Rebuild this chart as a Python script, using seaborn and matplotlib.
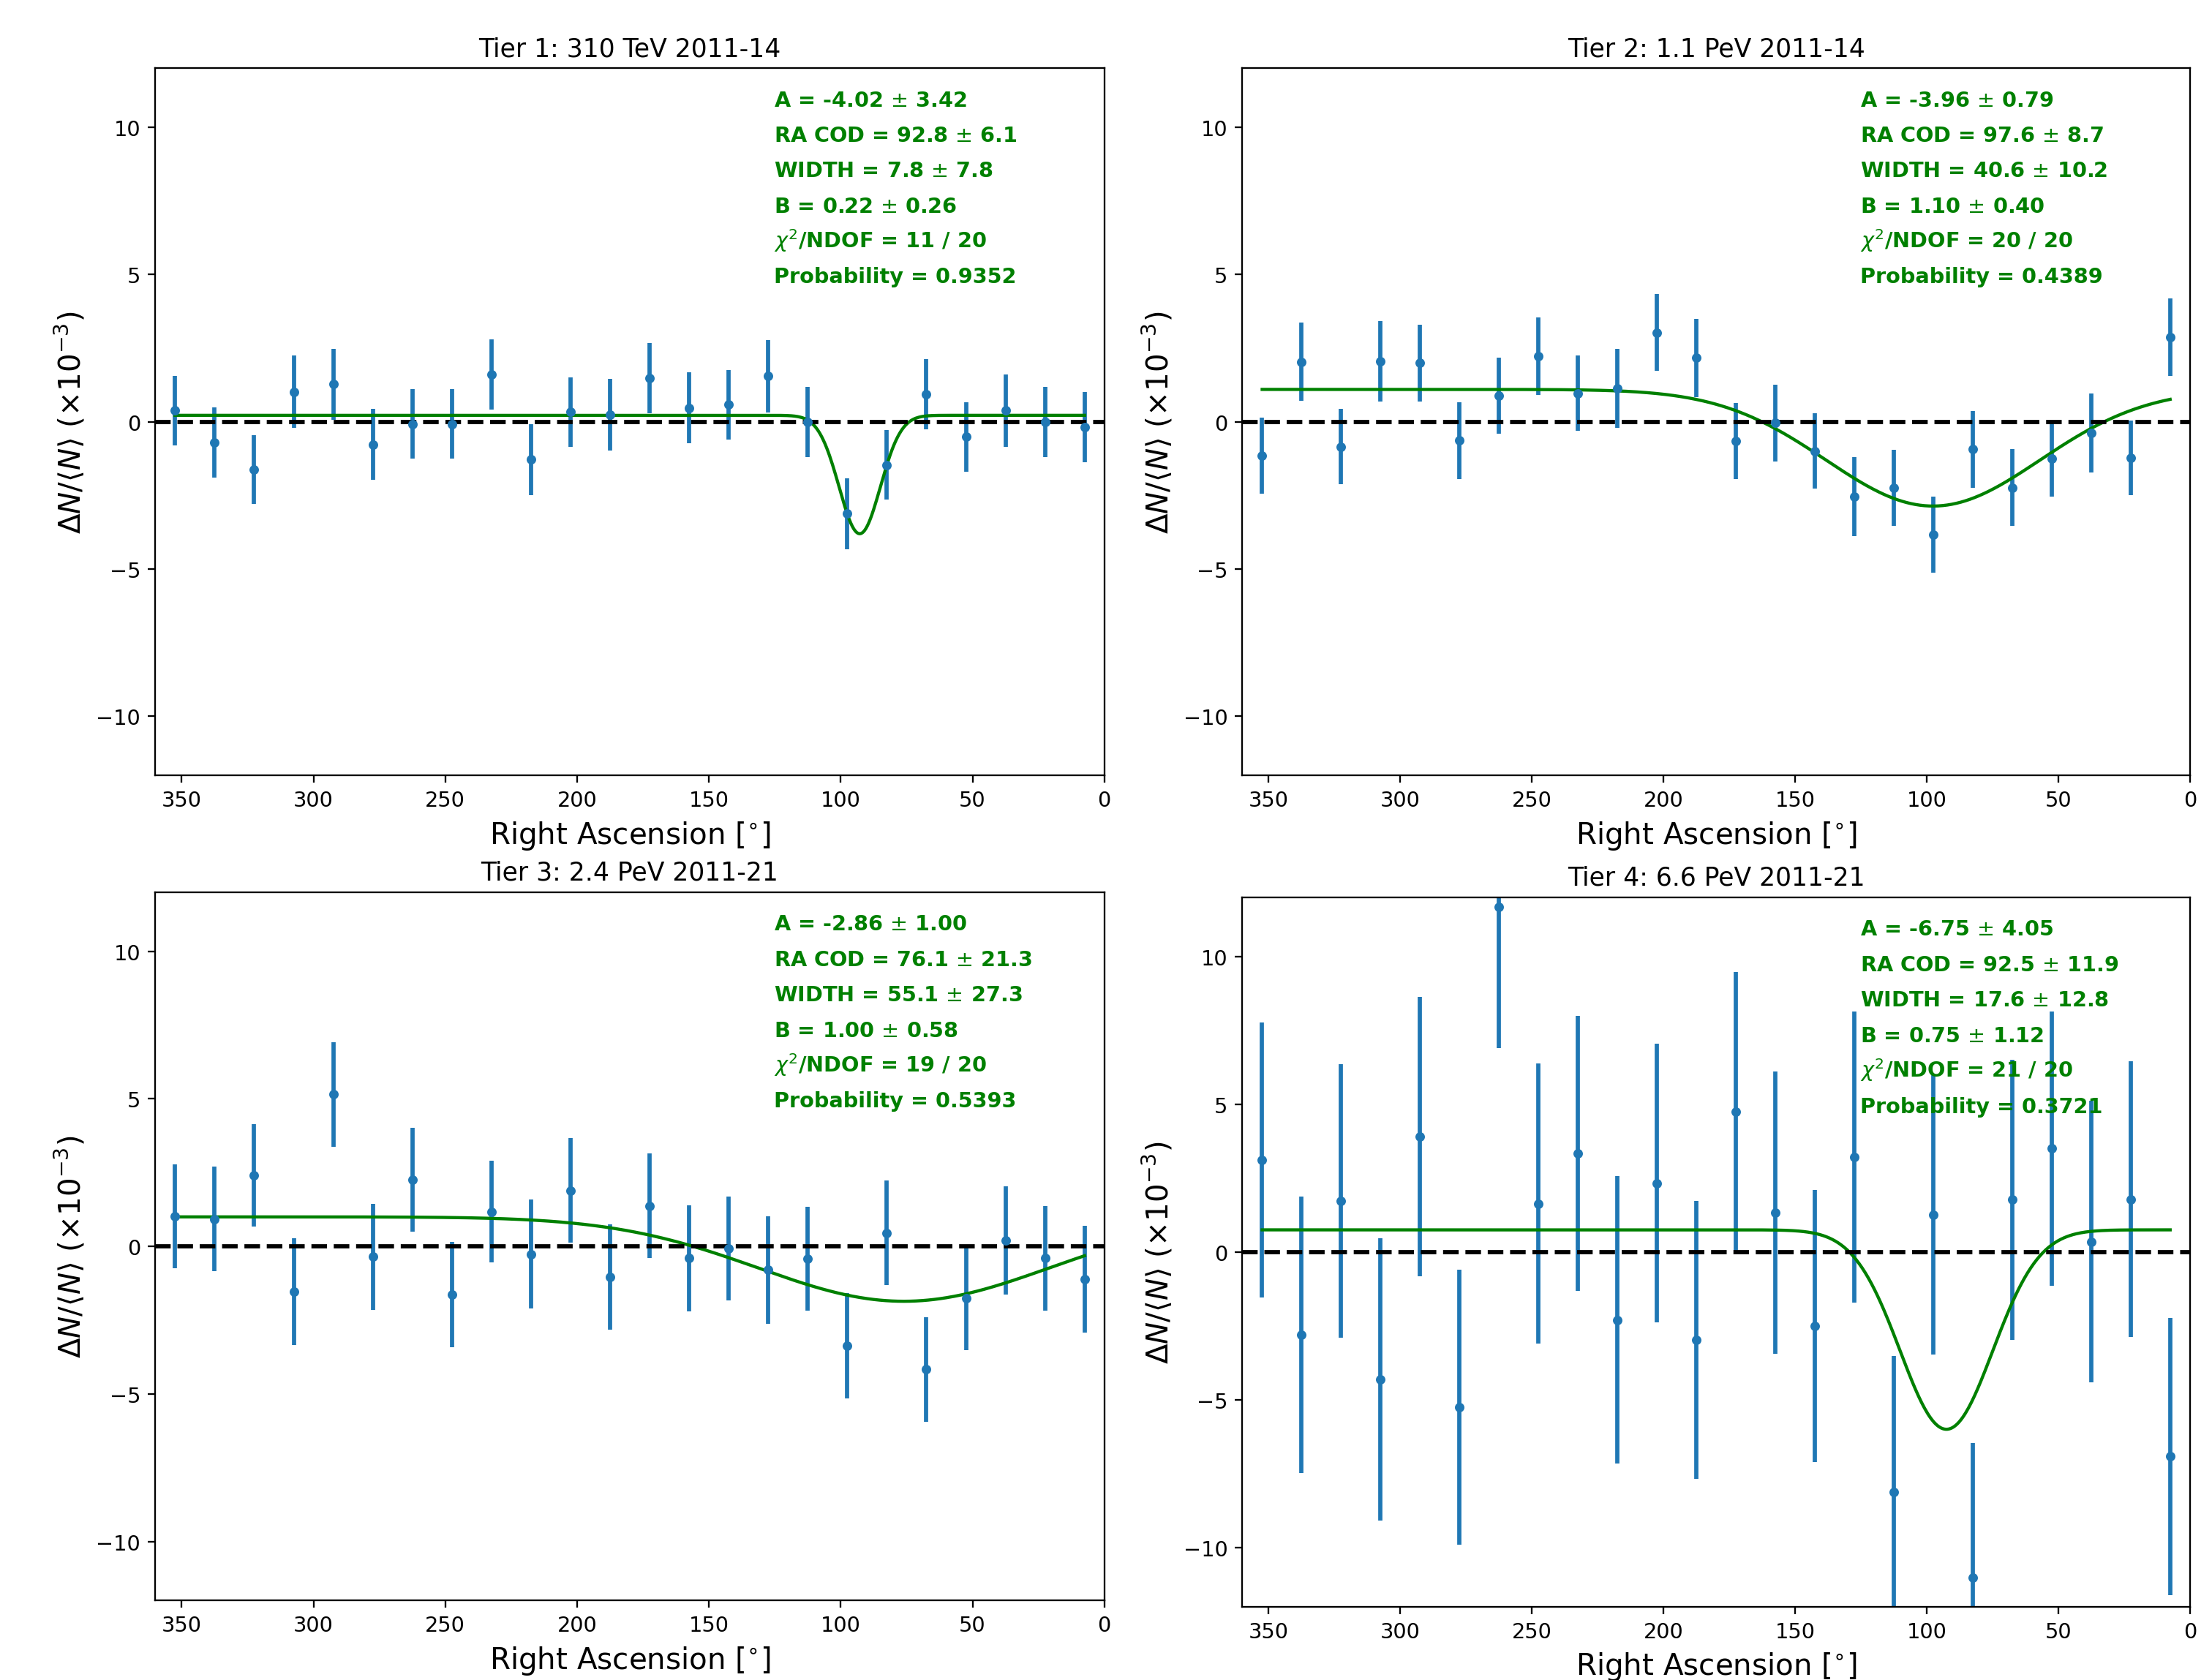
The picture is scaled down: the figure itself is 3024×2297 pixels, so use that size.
import numpy as np
import matplotlib
matplotlib.use("Agg")
import matplotlib.pyplot as plt
import seaborn as sns

# bin centres in right ascension (deg), 15 deg bins
ra_bins = [352.5, 337.5, 322.5, 307.5, 292.5, 277.5, 262.5, 247.5, 232.5, 217.5, 202.5, 187.5,
           172.5, 157.5, 142.5, 127.5, 112.5, 97.5, 82.5, 67.5, 52.5, 37.5, 22.5, 7.5]

titles = ["Tier 1: 310 TeV 2011-14", "Tier 2: 1.1 PeV 2011-14",
          "Tier 3: 2.4 PeV 2011-21", "Tier 4: 6.6 PeV 2011-21"]

# relative intensity (x1e-3) and errors
tier1_y = [0.38, -0.71, -1.62, 1.02, 1.28, -0.77, -0.07, -0.07, 1.61, -1.28, 0.33, 0.24,
           1.48, 0.47, 0.58, 1.55, 0.00, -3.12, -1.46, 0.93, -0.51, 0.38, 0.00, -0.18]
tier1_err = [1.17, 1.19, 1.16, 1.23, 1.20, 1.20, 1.18, 1.18, 1.19, 1.20, 1.19, 1.22,
             1.19, 1.20, 1.18, 1.23, 1.19, 1.21, 1.19, 1.19, 1.18, 1.22, 1.19, 1.20]

tier2_y = [-1.15, 2.04, -0.84, 2.06, 2.00, -0.64, 0.89, 2.23, 0.97, 1.13, 3.03, 2.17,
           -0.66, -0.04, -0.99, -2.54, -2.24, -3.83, -0.93, -2.23, -1.26, -0.38, -1.22, 2.88]
tier2_err = [1.28, 1.32, 1.28, 1.36, 1.30, 1.30, 1.30, 1.32, 1.28, 1.34, 1.30, 1.33,
             1.29, 1.31, 1.27, 1.33, 1.29, 1.30, 1.30, 1.31, 1.27, 1.34, 1.27, 1.32]

tier3_y = [1.02, 0.93, 2.40, -1.53, 5.15, -0.35, 2.26, -1.64, 1.18, -0.26, 1.89, -1.04,
           1.37, -0.40, -0.07, -0.80, -0.42, -3.37, 0.46, -4.17, -1.75, 0.20, -0.40, -1.11]
tier3_err = [1.76, 1.78, 1.74, 1.81, 1.78, 1.80, 1.76, 1.78, 1.73, 1.85, 1.77, 1.79,
             1.77, 1.80, 1.75, 1.82, 1.77, 1.79, 1.77, 1.77, 1.76, 1.83, 1.77, 1.80]

tier4_y = [3.11, -2.81, 1.73, -4.32, 3.90, -5.25, 11.68, 1.64, 3.33, -2.30, 2.33, -2.97,
           4.74, 1.33, -2.50, 3.21, -8.12, 1.26, -11.02, 1.77, 3.50, 0.35, 1.79, -6.92]
tier4_err = [4.65, 4.68, 4.62, 4.78, 4.73, 4.66, 4.78, 4.74, 4.65, 4.87, 4.72, 4.70,
             4.74, 4.77, 4.60, 4.92, 4.59, 4.74, 4.55, 4.74, 4.64, 4.77, 4.66, 4.69]

# gaussian fit parameters per tier
amp = [-4.02, -3.96, -2.86, -6.75]
amp_err = [3.42, 0.79, 1.00, 4.05]
ra_cod = [92.8, 97.6, 76.1, 92.5]
ra_cod_err = [6.1, 8.7, 21.3, 11.9]
width = [7.8, 40.6, 55.1, 17.6]
width_err = [7.8, 10.2, 27.3, 12.8]
base = [0.22, 1.10, 1.00, 0.75]
base_err = [0.26, 0.40, 0.58, 1.12]
chi2 = [11, 20, 19, 21]
ndof = [20, 20, 20, 20]
prob = [0.9352, 0.4389, 0.5393, 0.3721]

values = [tier1_y, tier2_y, tier3_y, tier4_y]
errors = [tier1_err, tier2_err, tier3_err, tier4_err]

# axes boxes [left, bottom, width, height] in figure fraction
boxes = [[0.0702, 0.5383, 0.4289, 0.4206],
         [0.5615, 0.5383, 0.4282, 0.4206],
         [0.0702, 0.0473, 0.4289, 0.4214],
         [0.5615, 0.0437, 0.4282, 0.4219]]

fig = plt.figure(figsize=(14.585, 11.08), dpi=207.4)

for i in range(4):
    ax = fig.add_axes(boxes[i])

    ax.errorbar(ra_bins, values[i], yerr=errors[i], fmt='o', color='#1f77b4',
                markersize=3.5, elinewidth=2, capsize=0)

    # fitted gaussian over the data range
    xfit = np.linspace(ra_bins[0], ra_bins[-1], 600)
    yfit = base[i] + amp[i] * np.exp(-(xfit - ra_cod[i]) ** 2 / (2 * width[i] ** 2))
    sns.lineplot(x=xfit, y=yfit, ax=ax, color='green', linewidth=1.5,
                 sort=False, estimator=None)

    ax.axhline(0, color='black', linestyle='--', linewidth=2)

    ax.set_xlim(360, 0)
    ax.set_ylim(-12, 12)
    ax.set_title(titles[i], fontsize=12)
    ax.set_xlabel(r'Right Ascension [$^{\circ}$]', fontsize=14)
    ax.set_ylabel(r'$\Delta N/\langle N\rangle$ ($\times 10^{-3}$)', fontsize=14)
    ax.tick_params(labelsize=10)

    lines = [
        f"A = {amp[i]:.2f} $\\pm$ {amp_err[i]:.2f}",
        f"RA COD = {ra_cod[i]:.1f} $\\pm$ {ra_cod_err[i]:.1f}",
        f"WIDTH = {width[i]:.1f} $\\pm$ {width_err[i]:.1f}",
        f"B = {base[i]:.2f} $\\pm$ {base_err[i]:.2f}",
        f"$\\chi^2$/NDOF = {chi2[i]} / {ndof[i]}",
        f"Probability = {prob[i]:.4f}",
    ]
    for j, txt in enumerate(lines):
        ax.text(0.652, 0.947 - 0.05 * j, txt, transform=ax.transAxes,
                color='green', fontweight='bold', fontsize=10, va='baseline')

fig.savefig('out.png', dpi=207.4)
